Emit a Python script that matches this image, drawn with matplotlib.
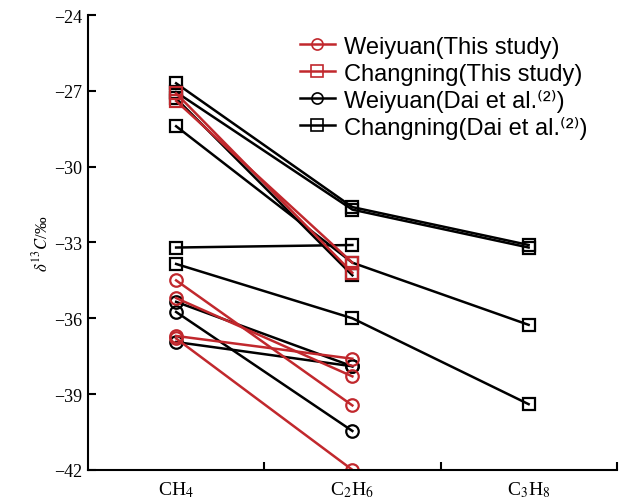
import numpy as np
import matplotlib
matplotlib.use("Agg")
import matplotlib.pyplot as plt
from matplotlib.lines import Line2D

plt.rcParams['font.family'] = ['Liberation Serif', 'DejaVu Serif']
plt.rcParams['mathtext.fontset'] = 'stix'

categories = [r'CH$_4$', r'C$_2$H$_6$', r'C$_3$H$_8$']

# Weiyuan, this study (CH4, C2H6)
weiyuan_this = [
  [-34.5, -39.45],
  [-35.2, -38.3],
  [-36.7, -37.6],
  [-36.8, -42.0],
]
# Changning, this study (CH4, C2H6)
changning_this = [
  [-27.1, -34.2],
  [-27.4, -33.8],
]
# Weiyuan, Dai et al. (CH4, C2H6)
weiyuan_dai = [
  [-35.35, -37.9],
  [-35.75, -40.46],
  [-36.94, -37.9],
]
# Changning, Dai et al. (CH4, C2H6, C3H8)
changning_dai = [
  [-26.7, -31.6, -33.1],
  [-27.05, -31.7, -33.2],
  [-27.3, -34.3, np.nan],
  [-28.4, -33.8, -36.26],
  [-33.2, -33.1, np.nan],
  [-33.85, -36.0, -39.4],
]

legend_labels = ['Weiyuan(This study)', 'Changning(This study)',
                 'Weiyuan(Dai et al.\u207d\u00b2\u207e)',
                 'Changning(Dai et al.\u207d\u00b2\u207e)']

RED = '#c1282d'
x_pos = np.array([0.5, 1.5, 2.5])

fig = plt.figure(figsize=(6.25, 5.02), dpi=100)
ax = fig.add_axes([0.1408, 0.062, 0.846, 0.906])

def draw(series, color, marker):
  for vals in series:
    vals = np.array(vals, dtype=float)
    ax.plot(x_pos[:len(vals)], vals, color=color, marker=marker,
            markersize=9, markerfacecolor='none', markeredgecolor=color,
            markeredgewidth=1.6, linewidth=1.8)

draw(changning_dai, 'black', 's')
draw(changning_this, RED, 's')
draw(weiyuan_dai, 'black', 'o')
draw(weiyuan_this, RED, 'o')

ax.set_xlim(0, 3)
ax.set_ylim(-42, -24)
ax.set_yticks(np.arange(-42, -23, 3))
ax.set_yticklabels(['\u2212%d' % abs(v) for v in np.arange(-42, -23, 3)])
ax.set_xticks([1, 2, 3])
ax.set_xticklabels([])
ax.set_xticks(x_pos, minor=True)
ax.set_xticklabels(categories, minor=True, fontsize=14)
ax.tick_params(axis='x', which='minor', length=0, pad=7)
ax.tick_params(axis='both', which='major', direction='in', length=6,
               width=1.5, labelsize=13)
ax.tick_params(axis='y', pad=4)

for side in ['top', 'right']:
  ax.spines[side].set_visible(False)
for side in ['left', 'bottom']:
  ax.spines[side].set_linewidth(1.5)

ax.set_ylabel(r'$\delta\,^{13}C$/‰', fontsize=12, labelpad=2)

# legend drawn row by row so the rows stay evenly spaced
styles = [(RED, 'o'), (RED, 's'), ('black', 'o'), ('black', 's')]
row_y = [0.936, 0.876, 0.817, 0.758]
for (color, marker), label, y in zip(styles, legend_labels, row_y):
  ax.add_line(Line2D([0.401, 0.467], [y, y], transform=ax.transAxes,
                     color=color, linewidth=1.8, clip_on=False))
  ax.add_line(Line2D([0.434], [y], transform=ax.transAxes, color=color,
                     marker=marker, markersize=8, markerfacecolor='none',
                     markeredgecolor=color, markeredgewidth=1.2,
                     clip_on=False))
  ax.text(0.485, y - 0.019, label, transform=ax.transAxes,
          family=['Liberation Sans', 'DejaVu Sans'], fontsize=17,
          va='baseline', ha='left')

fig.savefig('out.png', dpi=100)
